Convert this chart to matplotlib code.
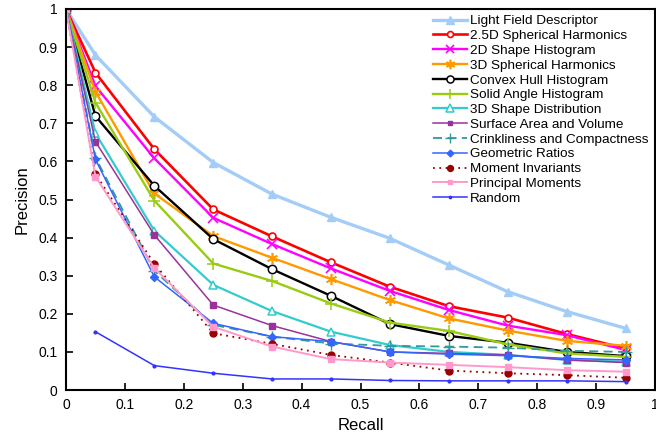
import numpy as np
import matplotlib
matplotlib.use("Agg")
import matplotlib.pyplot as plt

plt.rcParams['font.family'] = ['Liberation Sans', 'DejaVu Sans']

recall = [0, 0.05, 0.15, 0.25, 0.35, 0.45, 0.55, 0.65, 0.75, 0.85, 0.95]

light_field = [1.0, 0.879, 0.717, 0.597, 0.514, 0.453, 0.398, 0.328, 0.258, 0.206, 0.162]
sph_harm_25d = [1.0, 0.833, 0.632, 0.474, 0.403, 0.335, 0.271, 0.220, 0.190, 0.147, 0.109]
shape_hist_2d = [1.0, 0.798, 0.608, 0.452, 0.383, 0.319, 0.260, 0.210, 0.169, 0.144, 0.105]
sph_harm_3d = [1.0, 0.783, 0.516, 0.404, 0.347, 0.291, 0.236, 0.188, 0.156, 0.129, 0.116]
convex_hull = [1.0, 0.719, 0.536, 0.396, 0.317, 0.247, 0.173, 0.142, 0.124, 0.100, 0.089]
solid_angle = [1.0, 0.754, 0.497, 0.332, 0.286, 0.227, 0.177, 0.155, 0.120, 0.096, 0.087]
shape_dist_3d = [1.0, 0.674, 0.418, 0.276, 0.207, 0.153, 0.118, 0.100, 0.092, 0.079, 0.074]
surface_volume = [1.0, 0.652, 0.407, 0.223, 0.169, 0.127, 0.100, 0.096, 0.092, 0.079, 0.072]
crinkliness = [1.0, 0.610, 0.313, 0.171, 0.140, 0.122, 0.116, 0.114, 0.111, 0.103, 0.100]
geometric = [1.0, 0.605, 0.297, 0.175, 0.140, 0.127, 0.100, 0.094, 0.090, 0.083, 0.079]
moment_inv = [1.0, 0.567, 0.331, 0.149, 0.121, 0.092, 0.072, 0.051, 0.044, 0.039, 0.032]
principal = [1.0, 0.560, 0.320, 0.166, 0.114, 0.081, 0.072, 0.066, 0.060, 0.052, 0.048]
random_recall = recall[1:]
random_prec = [0.153, 0.064, 0.044, 0.029, 0.029, 0.025, 0.024, 0.024, 0.024, 0.022]

fig = plt.figure(figsize=(6.56, 4.38), dpi=100)
ax = fig.add_axes([66/656, 48/438, 589/656, 381/438])

asterisk = (6, 2, 0)
series = [
    ("Light Field Descriptor", recall, light_field, dict(color='#a3cdf7', lw=2.4, marker='^', ms=6, mfc='#a3cdf7')),
    ("2.5D Spherical Harmonics", recall, sph_harm_25d, dict(color='#ff0000', lw=1.9, marker='o', ms=5, mfc='white', mew=1.2)),
    ("2D Shape Histogram", recall, shape_hist_2d, dict(color='#ff00ff', lw=1.7, marker='x', ms=7, mew=1.2)),
    ("3D Spherical Harmonics", recall, sph_harm_3d, dict(color='#ff9900', lw=1.7, marker=asterisk, ms=8, mew=1.2)),
    ("Convex Hull Histogram", recall, convex_hull, dict(color='#000000', lw=1.7, marker='o', ms=6, mfc='white', mew=1.1)),
    ("Solid Angle Histogram", recall, solid_angle, dict(color='#99cc11', lw=1.7, marker='+', ms=9, mew=1.1)),
    ("3D Shape Distribution", recall, shape_dist_3d, dict(color='#33cccc', lw=1.6, marker='^', ms=6, mfc='white', mew=1.1)),
    ("Surface Area and Volume", recall, surface_volume, dict(color='#993399', lw=1.1, marker='s', ms=4)),
    ("Crinkliness and Compactness", recall, crinkliness, dict(color='#339999', lw=1.3, ls=(0, (5, 3)), marker='+', ms=8, mew=1.0)),
    ("Geometric Ratios", recall, geometric, dict(color='#3366ff', lw=1.1, marker='D', ms=4)),
    ("Moment Invariants", recall, moment_inv, dict(color='#990000', lw=1.3, ls=(0, (1, 2.5)), marker='o', ms=5)),
    ("Principal Moments", recall, principal, dict(color='#ff99cc', lw=1.4, marker='s', ms=4)),
    ("Random", random_recall, random_prec, dict(color='#3333ff', lw=1.1, marker='.', ms=4)),
]

for label, xs, ys, style in series:
    ax.plot(xs, ys, label=label, **style)

ax.set_xlim(0, 1)
ax.set_ylim(0, 1)
ax.set_xticks(np.arange(0, 1.01, 0.1))
ax.set_yticks(np.arange(0, 1.01, 0.1))
ax.set_xticklabels(['0', '0.1', '0.2', '0.3', '0.4', '0.5', '0.6', '0.7', '0.8', '0.9', '1'])
ax.set_yticklabels(['0', '0.1', '0.2', '0.3', '0.4', '0.5', '0.6', '0.7', '0.8', '0.9', '1'])
ax.tick_params(direction='in', length=5, width=1.2, labelsize=10, pad=6)
for s in ax.spines.values():
    s.set_linewidth(1.5)
ax.set_xlabel("Recall", fontsize=12, labelpad=4)
ax.set_ylabel("Precision", fontsize=12, labelpad=6)

# key sits in the upper right corner without a box
leg = ax.legend(loc='upper right', bbox_to_anchor=(0.995, 0.995), fontsize=9.7,
                frameon=False, handlelength=2.5, handletextpad=0.2,
                labelspacing=0.175, borderaxespad=0, borderpad=0.3,
                markerscale=0.85)

fig.savefig("out.png", dpi=100)
